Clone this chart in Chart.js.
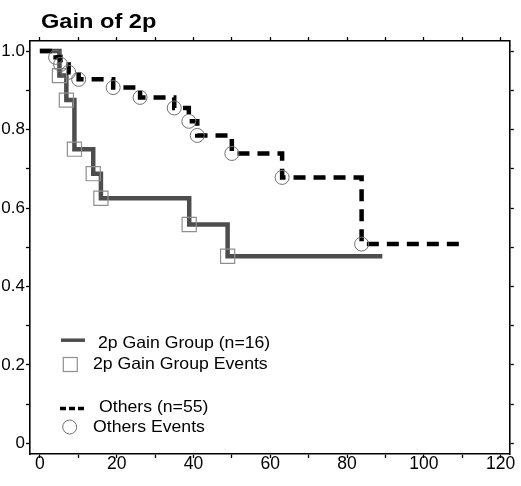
<!DOCTYPE html>
<html lang="en">
<head>
    <meta charset="UTF-8">
    <title>Gain of 2p</title>
    <script src="https://cdn.jsdelivr.net/npm/chart.js"></script>
    <style>
        body {
            margin: 0;
            background: #fff;
        }
        canvas {
            display: block;
        }
    </style>
</head>
<body>
    <canvas id="kmChart" width="521" height="486"></canvas>

    <script>
        // Kaplan-Meier step curves
        const titleText = 'Gain of 2p';

        const gainTimes = [0, 5.1, 6.9, 9.0, 13.9, 15.9, 38.9, 48.9, 89.2];
        const gainSurv = [1.0, 0.9375, 0.875, 0.75, 0.6875, 0.625, 0.558, 0.477, 0.477];
        const gainEventTimes = [5.1, 6.9, 9.0, 13.9, 15.9, 38.9, 48.9];
        const gainEventSurv = [0.9375, 0.875, 0.75, 0.6875, 0.625, 0.558, 0.477];

        const otherTimes = [0, 4.1, 5.4, 7.5, 10.1, 19.1, 26.1, 35.0, 38.8, 41.0, 50.0, 63.1, 83.8, 111];
        const otherSurv = [1.0, 0.984, 0.966, 0.946, 0.928, 0.907, 0.882, 0.855, 0.821, 0.785, 0.739, 0.678, 0.508, 0.508];
        const otherEventTimes = [4.1, 5.4, 7.5, 10.1, 19.1, 26.1, 35.0, 38.8, 41.0, 50.0, 63.1, 83.8];
        const otherEventSurv = [0.984, 0.966, 0.946, 0.928, 0.907, 0.882, 0.855, 0.821, 0.785, 0.739, 0.678, 0.508];

        const seriesLabels = ['2p Gain Group (n=16)', '2p Gain Group Events', 'Others (n=55)', 'Others Events'];

        const xMajorTicks = [0, 20, 40, 60, 80, 100, 120];
        const xMinorTicks = [10, 30, 50, 70, 90, 110];
        const yMajorTicks = [0, 0.2, 0.4, 0.6, 0.8, 1.0];
        const yTickLabels = ['0', '0.2', '0.4', '0.6', '0.8', '1.0'];
        const yMinorTicks = [0.1, 0.3, 0.5, 0.7, 0.9];

        const xMin = -2.57, xMax = 122.4;
        const yMin = -0.027, yMax = 1.0257;

        const FONT = 'Liberation Sans, Arial, sans-serif';
        const GAIN_COLOR = '#4d4d4d';
        const SQUARE_COLOR = '#8f8f8f';
        const CIRCLE_COLOR = '#707070';

        const toPoints = (xs, ys) => xs.map((x, i) => ({ x: x, y: ys[i] }));
        const allX = xMajorTicks.concat(xMinorTicks).sort((a, b) => a - b);
        const allY = yMajorTicks.concat(yMinorTicks).sort((a, b) => a - b);

        // text drawn a little wider than the font, like the original
        function wideText(ctx, text, x, y, stretch) {
            ctx.save();
            ctx.translate(x, y);
            ctx.scale(stretch, 1);
            ctx.fillText(text, 0, 0);
            ctx.restore();
        }

        // title and the in-plot legend
        const annotations = {
            id: 'annotations',
            afterDraw(chart) {
                const ctx = chart.ctx;
                ctx.save();
                ctx.fillStyle = '#000';
                ctx.textBaseline = 'alphabetic';
                ctx.textAlign = 'left';
                ctx.font = 'bold 20px ' + FONT;
                wideText(ctx, titleText, 41, 27.5, 1.18);

                ctx.font = '16.5px ' + FONT;

                ctx.strokeStyle = GAIN_COLOR;
                ctx.lineWidth = 3.5;
                ctx.beginPath();
                ctx.moveTo(61, 340.2);
                ctx.lineTo(85, 340.2);
                ctx.stroke();
                wideText(ctx, seriesLabels[0], 98, 347.7, 1.07);

                ctx.strokeStyle = SQUARE_COLOR;
                ctx.lineWidth = 1.2;
                ctx.strokeRect(63.3, 357.5, 14, 14);
                wideText(ctx, seriesLabels[1], 93, 369.3, 1.07);

                ctx.strokeStyle = '#000';
                ctx.lineWidth = 3.5;
                ctx.setLineDash([6, 3]);
                ctx.beginPath();
                ctx.moveTo(60, 408.5);
                ctx.lineTo(86, 408.5);
                ctx.stroke();
                ctx.setLineDash([]);
                wideText(ctx, seriesLabels[2], 99, 411.7, 1.07);

                ctx.strokeStyle = CIRCLE_COLOR;
                ctx.lineWidth = 1;
                ctx.beginPath();
                ctx.arc(69.7, 427, 7, 0, Math.PI * 2);
                ctx.stroke();
                wideText(ctx, seriesLabels[3], 93, 431.7, 1.07);
                ctx.restore();
            }
        };

        const tickGrid = {
            drawOnChartArea: false,
            drawTicks: true,
            tickLength: 4,
            tickColor: '#000',
            tickWidth: 1.3
        };
        const axisBorder = { display: true, color: '#000', width: 1.6 };

        const ctx = document.getElementById('kmChart').getContext('2d');
        const kmChart = new Chart(ctx, {
            type: 'scatter',
            data: {
                datasets: [
                    {
                        label: seriesLabels[3],
                        data: toPoints(otherEventTimes, otherEventSurv),
                        pointStyle: 'circle',
                        pointRadius: 7,
                        borderColor: CIRCLE_COLOR,
                        backgroundColor: 'rgba(0,0,0,0)',
                        borderWidth: 1,
                        showLine: false
                    },
                    {
                        label: seriesLabels[1],
                        data: toPoints(gainEventTimes, gainEventSurv),
                        pointStyle: 'rect',
                        pointRadius: 10,
                        borderColor: SQUARE_COLOR,
                        backgroundColor: 'rgba(0,0,0,0)',
                        borderWidth: 1.2,
                        showLine: false
                    },
                    {
                        label: seriesLabels[2],
                        data: toPoints(otherTimes, otherSurv),
                        showLine: true,
                        stepped: true,
                        borderColor: '#000',
                        borderWidth: 4.5,
                        borderDash: [12, 8],
                        pointRadius: 0,
                        fill: false
                    },
                    {
                        label: seriesLabels[0],
                        data: toPoints(gainTimes, gainSurv),
                        showLine: true,
                        stepped: true,
                        borderColor: GAIN_COLOR,
                        borderWidth: 4.5,
                        pointRadius: 0,
                        fill: false
                    }
                ]
            },
            options: {
                responsive: false,
                devicePixelRatio: 1,
                animation: false,
                layout: { padding: { top: 36, left: 0, right: 0, bottom: 0 } },
                plugins: {
                    legend: { display: false },
                    title: { display: false },
                    tooltip: { enabled: false }
                },
                scales: {
                    x: {
                        type: 'linear',
                        position: 'bottom',
                        min: xMin,
                        max: xMax,
                        afterBuildTicks: s => { s.ticks = allX.map(v => ({ value: v })); },
                        afterFit: s => { s.height = 32; },
                        ticks: {
                            autoSkip: false,
                            maxRotation: 0,
                            padding: -4,
                            color: '#000',
                            font: { family: FONT, size: 17.5 },
                            callback: v => xMajorTicks.includes(v) ? String(v) : ''
                        },
                        grid: tickGrid,
                        border: axisBorder
                    },
                    x2: {
                        type: 'linear',
                        position: 'top',
                        min: xMin,
                        max: xMax,
                        afterBuildTicks: s => { s.ticks = allX.map(v => ({ value: v })); },
                        afterFit: s => { s.height = 5; },
                        ticks: { display: false, autoSkip: false },
                        grid: tickGrid,
                        border: axisBorder
                    },
                    y: {
                        type: 'linear',
                        position: 'left',
                        min: yMin,
                        max: yMax,
                        afterBuildTicks: s => { s.ticks = allY.map(v => ({ value: v })); },
                        afterFit: s => { s.width = 30; },
                        ticks: {
                            autoSkip: false,
                            padding: 1,
                            color: '#000',
                            font: { family: FONT, size: 17 },
                            callback: v => {
                                const i = yMajorTicks.findIndex(t => Math.abs(t - v) < 1e-6);
                                return i >= 0 ? yTickLabels[i] : '';
                            }
                        },
                        grid: tickGrid,
                        border: axisBorder
                    },
                    y2: {
                        type: 'linear',
                        position: 'right',
                        min: yMin,
                        max: yMax,
                        afterBuildTicks: s => { s.ticks = allY.map(v => ({ value: v })); },
                        afterFit: s => { s.width = 5; },
                        ticks: { display: false, autoSkip: false },
                        grid: tickGrid,
                        border: axisBorder
                    }
                }
            },
            plugins: [annotations]
        });
    </script>
</body>
</html>
